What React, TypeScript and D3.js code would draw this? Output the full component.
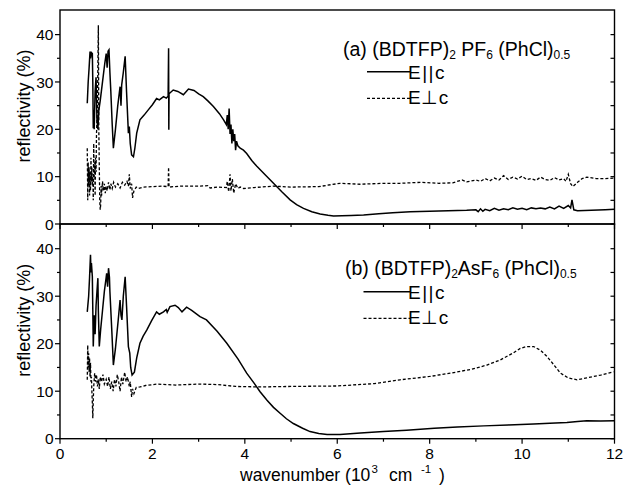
import React from "react";
import * as d3 from "d3";

type Pt = [number, number];

const xTicksMajor = [0, 2, 4, 6, 8, 10, 12];
const xTicksMinor = [1, 3, 5, 7, 9, 11];
const yTicksMajor = [0, 10, 20, 30, 40];
const yTicksMinor = [5, 15, 25, 35];

// (a) (BDTFP)2 PF6 (PhCl)0.5, E||c
const topParallel: Pt[] = [
  [0.59, 25.5], [0.61, 30], [0.63, 33], [0.65, 36.4], [0.66, 35], [0.68, 36.2], [0.7, 36], [0.71, 30],
  [0.72, 20.2], [0.73, 24], [0.74, 20], [0.76, 28], [0.78, 31], [0.8, 22], [0.82, 20], [0.84, 24],
  [0.87, 26], [0.92, 30], [0.97, 34], [1.0, 36], [1.02, 33], [1.04, 36.5], [1.06, 36.8], [1.08, 32],
  [1.1, 28], [1.13, 21], [1.155, 16], [1.2, 20], [1.25, 25], [1.3, 29], [1.32, 25], [1.335, 29.4],
  [1.37, 32], [1.41, 35.4], [1.44, 28], [1.48, 19.2], [1.5, 20.6], [1.52, 17], [1.55, 14.6], [1.59, 14.2],
  [1.62, 16], [1.66, 19.2], [1.73, 22], [1.82, 23], [1.91, 24.1], [2.0, 25.2], [2.09, 26.5], [2.15, 26.2],
  [2.24, 26.9], [2.3, 26.6], [2.34, 27], [2.35, 37.1], [2.355, 19.9], [2.36, 27.5], [2.45, 28.3], [2.55, 28],
  [2.67, 27.3], [2.78, 28.5], [2.9, 28.2], [3.0, 27.5], [3.1, 26.9], [3.2, 26], [3.32, 24.8], [3.45, 23.3],
  [3.54, 22], [3.6, 21], [3.62, 23], [3.64, 20], [3.66, 24.4], [3.68, 19], [3.7, 21], [3.72, 17],
  [3.74, 20], [3.76, 17.5], [3.78, 19], [3.8, 15.6], [3.82, 17.5], [3.85, 16.5], [3.9, 16], [3.97, 15.6],
  [4.04, 14.9], [4.15, 13.4], [4.26, 12.2], [4.45, 10.3], [4.62, 8.6], [4.8, 6.8], [4.98, 5.1], [5.12, 4.1],
  [5.27, 3.3], [5.45, 2.6], [5.63, 2.1], [5.8, 1.85], [5.92, 1.7], [6.1, 1.75], [6.3, 1.8], [6.57, 1.9],
  [6.9, 2.15], [7.2, 2.4], [7.58, 2.6], [8.0, 2.7], [8.4, 2.8], [8.8, 2.9], [9.0, 3.0], [9.05, 2.6],
  [9.1, 3.2], [9.15, 2.7], [9.2, 3.1], [9.3, 2.8], [9.4, 3.3], [9.5, 2.9], [9.6, 3.2], [9.7, 3.0],
  [9.8, 3.4], [9.9, 3.1], [10.0, 3.3], [10.1, 3.0], [10.2, 3.4], [10.3, 3.2], [10.4, 3.4], [10.5, 3.2],
  [10.6, 3.6], [10.7, 3.2], [10.8, 3.8], [10.9, 3.3], [11.0, 3.9], [11.05, 3.4], [11.08, 5.1], [11.12, 3.0],
  [11.2, 2.8], [11.5, 2.9], [11.8, 3.0], [12.0, 3.1],
];

// (a) E⊥c
const topPerpendicular: Pt[] = [
  [0.59, 16], [0.6, 5], [0.61, 13], [0.62, 8], [0.63, 12], [0.64, 6], [0.65, 11], [0.66, 7], [0.67, 14],
  [0.68, 9], [0.69, 12], [0.7, 8], [0.71, 10], [0.72, 5], [0.73, 17], [0.74, 10], [0.75, 13], [0.76, 6],
  [0.77, 14], [0.78, 11], [0.79, 19], [0.81, 25], [0.83, 42], [0.84, 20], [0.86, 5], [0.87, 3], [0.88, 4],
  [0.89, 8], [0.9, 6], [0.92, 9], [0.94, 7], [0.96, 8.5], [0.98, 6.5], [1.0, 8], [1.02, 7], [1.05, 8.8],
  [1.08, 7.2], [1.1, 8.5], [1.13, 7.5], [1.16, 8.8], [1.2, 7.8], [1.25, 8.5], [1.3, 7.6], [1.35, 8.8],
  [1.4, 8.2], [1.45, 9], [1.48, 8], [1.5, 10.5], [1.52, 7.5], [1.55, 8.5], [1.57, 5.5], [1.6, 7],
  [1.65, 7.8], [1.7, 7.5], [1.8, 7.8], [2.0, 7.9], [2.2, 8], [2.34, 7.9], [2.35, 12], [2.36, 7.8],
  [2.6, 8], [3.0, 8], [3.2, 8.1], [3.25, 7.6], [3.4, 7.8], [3.6, 7.7], [3.62, 9], [3.65, 6.8], [3.68, 10.5],
  [3.7, 7], [3.73, 9.5], [3.76, 6.5], [3.8, 8.5], [3.85, 7.5], [3.9, 7.8], [3.97, 7.5], [4.2, 7.7],
  [4.62, 8.0], [5.0, 7.8], [5.6, 7.9], [6.06, 8.6], [6.5, 8.4], [7.0, 8.6], [7.36, 8.6], [7.8, 8.8],
  [8.2, 8.6], [8.5, 8.7], [8.7, 9.3], [8.8, 8.9], [9.0, 9.3], [9.1, 9.0], [9.2, 9.6], [9.3, 9.1],
  [9.4, 9.7], [9.5, 9.3], [9.6, 10.2], [9.7, 9.4], [9.8, 9.9], [9.9, 9.5], [10.0, 10.1], [10.1, 9.4],
  [10.2, 9.6], [10.3, 9.2], [10.4, 9.9], [10.5, 9.4], [10.6, 9.2], [10.7, 9.8], [10.8, 9.3], [10.9, 9.6],
  [10.95, 9.0], [11.0, 10.5], [11.05, 8.5], [11.1, 7.9], [11.2, 8.8], [11.3, 9.6], [11.4, 9.9], [11.6, 9.6],
  [11.8, 9.6], [12, 9.7],
];

// (b) (BDTFP)2AsF6 (PhCl)0.5, E||c
const bottomParallel: Pt[] = [
  [0.59, 26.7], [0.62, 30], [0.64, 34], [0.66, 38.7], [0.67, 35], [0.68, 37], [0.7, 34.1], [0.71, 27],
  [0.72, 19.4], [0.74, 26], [0.76, 22], [0.78, 28], [0.8, 31], [0.82, 33.8], [0.83, 27], [0.85, 19.4],
  [0.88, 23], [0.92, 27], [0.96, 31], [1.0, 34], [1.01, 34.8], [1.03, 32], [1.05, 35.9], [1.07, 34],
  [1.08, 31], [1.12, 23], [1.155, 15.5], [1.2, 19], [1.26, 25], [1.3, 29.2], [1.32, 26], [1.34, 25],
  [1.37, 30], [1.41, 34.1], [1.44, 28], [1.48, 19.4], [1.51, 18], [1.53, 15], [1.56, 13.4], [1.61, 14],
  [1.66, 17], [1.73, 20.1], [1.8, 21.6], [1.88, 22.9], [1.98, 24.8], [2.09, 26.7], [2.15, 26.2], [2.24, 26.7],
  [2.3, 27.2], [2.32, 26.6], [2.38, 27.8], [2.49, 28.1], [2.56, 27.6], [2.64, 26.7], [2.74, 27.7], [2.85, 27],
  [3.03, 25.7], [3.17, 25], [3.4, 22.6], [3.61, 20.1], [3.85, 16.8], [4.04, 13.8], [4.2, 11.7], [4.33, 9.9],
  [4.48, 8.1], [4.62, 6.6], [4.77, 5.3], [4.9, 4.2], [5.05, 3.2], [5.25, 2.2], [5.41, 1.5], [5.6, 1.1],
  [5.78, 0.9], [6.06, 0.9], [6.5, 1.2], [7.0, 1.5], [7.5, 1.8], [8.1, 2.2], [8.6, 2.45], [9.17, 2.7],
  [9.7, 2.9], [10.25, 3.1], [10.6, 3.25], [10.97, 3.4], [11.2, 3.6], [11.4, 3.8], [11.7, 3.75], [12, 3.8],
];

// (b) E⊥c
const bottomPerpendicular: Pt[] = [
  [0.59, 12.4], [0.6, 19.7], [0.61, 15], [0.62, 18], [0.63, 14], [0.64, 17], [0.65, 13], [0.66, 16],
  [0.67, 12], [0.68, 13], [0.69, 10], [0.7, 7.5], [0.71, 4.3], [0.72, 8], [0.73, 11], [0.75, 13.8],
  [0.77, 12], [0.79, 13.5], [0.81, 11], [0.83, 12.5], [0.85, 10.5], [0.87, 13], [0.9, 12], [0.93, 13.5],
  [0.96, 11.5], [1.0, 12.5], [1.03, 11], [1.06, 13], [1.09, 10.5], [1.12, 12], [1.15, 10], [1.18, 12.5],
  [1.21, 11], [1.24, 13.5], [1.27, 12], [1.3, 10], [1.33, 13], [1.36, 11.5], [1.4, 14], [1.43, 12],
  [1.46, 13], [1.5, 11], [1.52, 12], [1.55, 8.8], [1.57, 10.5], [1.6, 9.5], [1.65, 10.8], [1.73, 10.9],
  [1.85, 11.2], [2.1, 11.5], [2.5, 11.3], [3.0, 11.5], [3.4, 11.4], [3.8, 11.0], [4.33, 10.9], [5.0, 11],
  [6.0, 11.1], [6.8, 11.6], [7.36, 12.4], [8.0, 13.1], [8.45, 13.8], [8.9, 14.6], [9.24, 15.5], [9.53, 16.6],
  [9.8, 18], [9.96, 19], [10.1, 19.4], [10.25, 19.4], [10.4, 18.6], [10.54, 17.3], [10.7, 15.4], [10.83, 13.8],
  [11.0, 12.8], [11.19, 12.4], [11.4, 12.8], [11.7, 13.4], [11.98, 14.1],
];

const legendParallel = "E||c";
const legendPerp = "E\u22A5c";
const yLabel = "reflectivity (%)";

const FONT = "'Liberation Sans', Arial, Helvetica, sans-serif";

const W = 624;
const H = 486;
const L = 60;
const R = 614.5;
const T1 = 10;
const B1 = 224;
const B2 = 438.7;
const YMAX = 45.2;

function Panel({
  top,
  bottom,
  par,
  perp,
  title,
  legendY,
  legendX0,
  showXLabels,
}: {
  top: number;
  bottom: number;
  par: Pt[];
  perp: Pt[];
  title: React.ReactNode;
  legendY: number;
  legendX0: number;
  showXLabels: boolean;
}) {
  const x = d3.scaleLinear().domain([0, 12]).range([L, R]);
  const y = d3.scaleLinear().domain([0, YMAX]).range([bottom, top]);
  const line = d3
    .line<Pt>()
    .x((d) => x(d[0]))
    .y((d) => y(d[1]));
  return (
    <g>
      <path d={line(perp) || ""} fill="none" stroke="#000" strokeWidth={1.3} strokeDasharray="3,2" />
      <path d={line(par) || ""} fill="none" stroke="#000" strokeWidth={1.5} />
      <rect x={L} y={top} width={R - L} height={bottom - top} fill="none" stroke="#000" strokeWidth={1.4} />
      {yTicksMajor.map((t) => (
        <g key={"ym" + t}>
          <line x1={L - 5} x2={L} y1={y(t)} y2={y(t)} stroke="#000" strokeWidth={1.2} />
          <line x1={R - 4} x2={R} y1={y(t)} y2={y(t)} stroke="#000" strokeWidth={1.2} />
          <text x={L - 6.5} y={y(t)} dy="0.36em" textAnchor="end" fontSize={15.5} fontFamily={FONT}>
            {t}
          </text>
        </g>
      ))}
      {yTicksMinor.map((t) => (
        <g key={"yn" + t}>
          <line x1={L - 3} x2={L} y1={y(t)} y2={y(t)} stroke="#000" strokeWidth={1.2} />
          <line x1={R - 4} x2={R} y1={y(t)} y2={y(t)} stroke="#000" strokeWidth={1.2} />
        </g>
      ))}
      {xTicksMajor.map((t) => (
        <g key={"xm" + t}>
          <line x1={x(t)} x2={x(t)} y1={bottom} y2={bottom + 5} stroke="#000" strokeWidth={1.2} />
          {showXLabels && (
            <text x={x(t)} y={bottom + 20.5} textAnchor="middle" fontSize={15.5} fontFamily={FONT}>
              {t}
            </text>
          )}
        </g>
      ))}
      {xTicksMinor.map((t) => (
        <line key={"xn" + t} x1={x(t)} x2={x(t)} y1={bottom} y2={bottom + 3} stroke="#000" strokeWidth={1.2} />
      ))}
      <text
        transform={`translate(30,${(top + bottom) / 2 - 11}) rotate(-90)`}
        textAnchor="middle"
        fontSize={18}
        fontFamily={FONT}
      >
        {yLabel}
      </text>
      {title}
      <line x1={legendX0} x2={410} y1={legendY} y2={legendY} stroke="#000" strokeWidth={1.5} />
      <text x={408} y={legendY + 6.8} fontSize={19} letterSpacing={1.5} fontFamily={FONT}>
        {legendParallel}
      </text>
      <line
        x1={legendX0}
        x2={410}
        y1={legendY + 26.6}
        y2={legendY + 26.6}
        stroke="#000"
        strokeWidth={1.3}
        strokeDasharray="3,2"
      />
      <text x={408} y={legendY + 32.3} fontSize={19} letterSpacing={0.5} fontFamily={FONT}>
        {legendPerp}
      </text>
    </g>
  );
}

export default function App() {
  const titleA = (
    <text x={343} y={56} fontSize={19.5} fontFamily={FONT}>
      {"(a) (BDTFP)"}
      <tspan fontSize={12} dy={3}>2</tspan>
      <tspan dy={-3}>{" PF"}</tspan>
      <tspan fontSize={12} dy={3}>6</tspan>
      <tspan dy={-3}>{" (PhCl)"}</tspan>
      <tspan fontSize={12} dy={3}>0.5</tspan>
    </text>
  );
  const titleB = (
    <text x={345} y={275} fontSize={19.5} fontFamily={FONT}>
      {"(b) (BDTFP)"}
      <tspan fontSize={12} dy={3}>2</tspan>
      <tspan dy={-3}>{"AsF"}</tspan>
      <tspan fontSize={12} dy={3}>6</tspan>
      <tspan dy={-3}>{" (PhCl)"}</tspan>
      <tspan fontSize={12} dy={3}>0.5</tspan>
    </text>
  );
  return (
    <svg
      width={W}
      height={H}
      viewBox={`0 0 ${W} ${H}`}
      style={{ position: "absolute", left: 0, top: 0, background: "#fff" }}
    >
      <rect x={0} y={0} width={W} height={H} fill="#fff" />
      <Panel
        top={T1}
        bottom={B1}
        par={topParallel}
        perp={topPerpendicular}
        title={titleA}
        legendY={71.7}
        legendX0={367}
        showXLabels={false}
      />
      <Panel
        top={B1}
        bottom={B2}
        par={bottomParallel}
        perp={bottomPerpendicular}
        title={titleB}
        legendY={291.7}
        legendX0={363.5}
        showXLabels={true}
      />
      <text y={481} fontSize={17.5} fontFamily={FONT}>
        <tspan x={240}>{"wavenumber (10"}</tspan>
        <tspan x={371.5} y={473} fontSize={11.5}>3</tspan>
        <tspan x={389} y={481}>cm</tspan>
        <tspan x={421} y={473} fontSize={11.5}>-1</tspan>
        <tspan x={439} y={481}>)</tspan>
      </text>
    </svg>
  );
}
